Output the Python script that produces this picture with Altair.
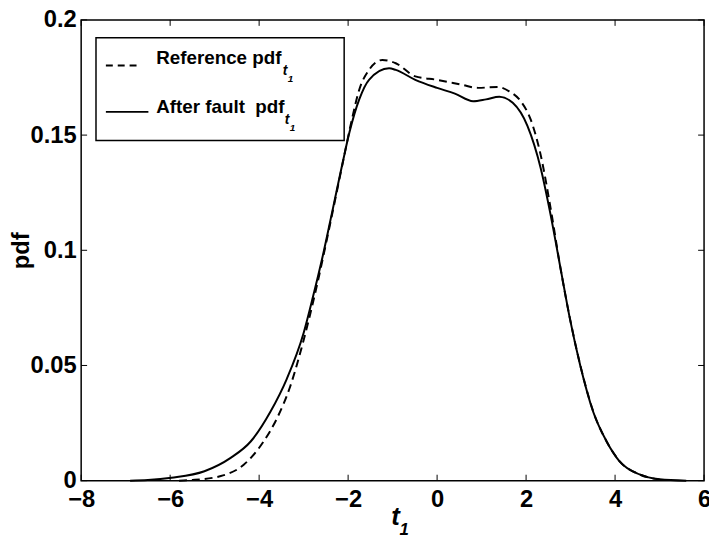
import altair as alt
import pandas as pd

# ---- data ----
ref_x = [-5.8, -5.5, -4.86, -4.34, -3.9, -3.6, -3.3, -3.0, -2.71, -2.42, -2.12, -1.93, -1.75,
         -1.53, -1.23, -0.93, -0.49, 0.0, 0.55, 0.92, 1.36, 1.62, 1.88, 2.1, 2.33, 2.55, 2.77,
         2.99, 3.22, 3.51, 3.81, 4.1, 4.55, 5.0]
ref_y = [0.0, 0.0003, 0.002, 0.007, 0.017, 0.027, 0.041, 0.061, 0.084, 0.110, 0.138, 0.1555,
         0.1697, 0.1783, 0.1826, 0.1812, 0.1755, 0.174, 0.1719, 0.1705, 0.1709, 0.169, 0.1647,
         0.1569, 0.1412, 0.1184, 0.0926, 0.070, 0.050, 0.030, 0.017, 0.0085, 0.0027, 0.0005]

aft_x = [-6.9, -6.5, -5.97, -5.23, -4.64, -4.19, -3.75, -3.38, -3.0, -2.79, -2.56, -2.34, -2.12,
         -1.97, -1.75, -1.53, -1.08, -0.93, -0.49, 0.0, 0.4, 0.81, 1.1, 1.4, 1.7, 2.03, 2.33,
         2.55, 2.77, 2.99, 3.22, 3.51, 3.81, 4.1, 4.55, 5.0, 5.6]
aft_y = [0.0, 0.0003, 0.0013, 0.0041, 0.0099, 0.017, 0.0298, 0.0441, 0.0641, 0.0798, 0.0984,
         0.1183, 0.1383, 0.1512, 0.1655, 0.174, 0.179, 0.1783, 0.174, 0.1705, 0.168, 0.1647,
         0.1655, 0.1666, 0.164, 0.154, 0.1355, 0.1155, 0.0926, 0.0698, 0.0498, 0.0298, 0.017,
         0.0084, 0.0027, 0.0006, 0.0]

x_ticks = [-8, -6, -4, -2, 0, 2, 4, 6]
y_ticks = [0, 0.05, 0.1, 0.15, 0.2]

legend_labels = ["Reference pdf", "After fault\u00a0 pdf"]
sub_main = "t"
sub_index = "1"
y_title = "pdf"

# ---- layout / style ----
W, H = 630, 466
FONT = "Liberation Sans"
TICK = 6

xs = alt.Scale(domain=[-8, 6], nice=False, zero=False)
ys = alt.Scale(domain=[0, 0.2], nice=False)

xaxis = alt.Axis(values=x_ticks, format="~g", ticks=False, domain=False, grid=False,
                 labelFont=FONT, labelFontSize=24, labelFontWeight="bold", labelColor="black",
                 labelPadding=7, labelFlush=False, labelOverlap=False, title=None)
yaxis = alt.Axis(values=y_ticks, format="~g", ticks=False, domain=False, grid=False,
                 labelFont=FONT, labelFontSize=24, labelFontWeight="bold", labelColor="black",
                 labelPadding=5, labelFlush=False, labelOverlap=False,
                 title=y_title, titleFont=FONT, titleFontSize=24,
                 titleFontWeight="bold", titleColor="black", titleX=-53, titleY=H / 2,
                 titleAngle=270, titleAlign="center", titleBaseline="alphabetic")

ref_df = pd.DataFrame({"t": ref_x, "pdf": ref_y})
aft_df = pd.DataFrame({"t": aft_x, "pdf": aft_y})

ref_line = alt.Chart(ref_df).mark_line(color="black", strokeWidth=2, strokeDash=[8, 5],
                                       interpolate="monotone").encode(
    x=alt.X("t:Q", scale=xs, axis=xaxis),
    y=alt.Y("pdf:Q", scale=ys, axis=yaxis),
)
aft_line = alt.Chart(aft_df).mark_line(color="black", strokeWidth=2,
                                       interpolate="monotone").encode(
    x=alt.X("t:Q", scale=xs),
    y=alt.Y("pdf:Q", scale=ys),
)

xt_df = pd.DataFrame({"t": x_ticks})
yt_df = pd.DataFrame({"pdf": y_ticks})
xt_bot = alt.Chart(xt_df).mark_rule(color="black", strokeWidth=1).encode(
    x=alt.X("t:Q", scale=xs), y=alt.value(H), y2=alt.value(H - TICK))
xt_top = alt.Chart(xt_df).mark_rule(color="black", strokeWidth=1).encode(
    x=alt.X("t:Q", scale=xs), y=alt.value(0), y2=alt.value(TICK))
yt_left = alt.Chart(yt_df).mark_rule(color="black", strokeWidth=1).encode(
    y=alt.Y("pdf:Q", scale=ys), x=alt.value(0), x2=alt.value(TICK))
yt_right = alt.Chart(yt_df).mark_rule(color="black", strokeWidth=1).encode(
    y=alt.Y("pdf:Q", scale=ys), x=alt.value(W), x2=alt.value(W - TICK))

one = pd.DataFrame({"a": [0]})
leg_box = alt.Chart(one).mark_rect(fill="white", stroke="black", strokeWidth=1.5).encode(
    x=alt.value(15), x2=alt.value(266), y=alt.value(18), y2=alt.value(122))
leg_dash = alt.Chart(one).mark_rule(color="black", strokeWidth=2, strokeDash=[7, 5]).encode(
    x=alt.value(25), x2=alt.value(61), y=alt.value(46))
leg_solid = alt.Chart(one).mark_rule(color="black", strokeWidth=2).encode(
    x=alt.value(25), x2=alt.value(68), y=alt.value(93))


def txt(s, x, y, size, italic=False, align="left"):
    return alt.Chart(one).mark_text(align=align, baseline="alphabetic", font=FONT,
                                    fontWeight="bold", fontStyle="italic" if italic else "normal",
                                    fontSize=size, color="black").encode(
        x=alt.value(x), y=alt.value(y), text=alt.value(s))


texts = [
    txt(legend_labels[0], 76, 45, 19),
    txt(sub_main, 204, 56, 14, True),
    txt(sub_index, 209, 63, 10, True),
    txt(legend_labels[1], 76, 94, 19),
    txt(sub_main, 206, 105, 14, True),
    txt(sub_index, 211, 112, 10, True),
    txt(sub_main, 318, 511, 26, True, "center"),
    txt(sub_index, 322, 521, 17, True),
]

chart = alt.layer(ref_line, aft_line, xt_bot, xt_top, yt_left, yt_right,
                  leg_box, leg_dash, leg_solid, *texts).properties(
    width=W, height=H,
    padding={"left": 74, "top": 9, "right": 5, "bottom": 60},
    autosize=alt.AutoSizeParams(type="none"),
).configure_view(stroke="black", strokeWidth=1.5)

chart.save("out.html", embed_options={"renderer": "svg", "actions": False})
